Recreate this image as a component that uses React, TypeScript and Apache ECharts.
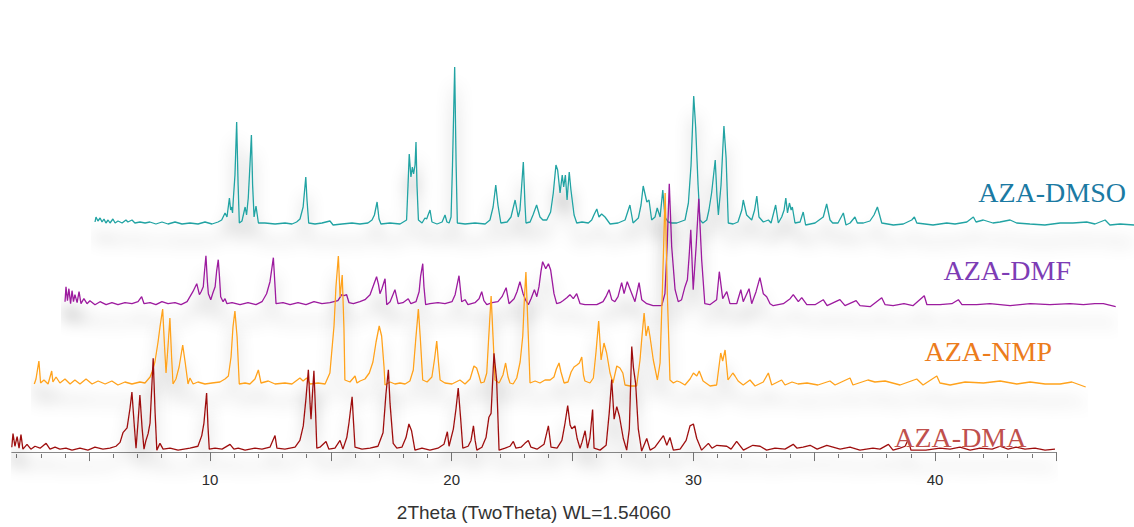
import React, { useEffect, useRef } from "react";
import * as echarts from "echarts";

// ---- Data: [2Theta (deg), relative intensity] ----
const DMSO: [number, number][] = [[1.52,3],[1.56,8],[1.64,4],[1.73,7],[1.81,3],[1.89,6],[1.97,2],[2.06,5],[2.14,2],[2.26,6],[2.35,2],[2.47,4],[2.64,2],[2.80,5],[2.88,3],[3.05,5],[3.17,2],[3.38,3],[3.59,2],[3.79,3],[4.04,1],[4.29,3],[4.54,1],[4.83,3],[5.12,1],[5.45,2],[5.78,1],[6.07,3],[6.36,1],[6.61,3],[6.76,5],[6.90,12],[6.98,8],[7.08,27],[7.13,15],[7.17,18],[7.21,12],[7.24,25],[7.31,50],[7.38,103],[7.44,40],[7.49,2],[7.60,4],[7.73,18],[7.79,10],[7.86,27],[7.93,60],[7.99,90],[8.04,40],[8.10,8],[8.18,19],[8.28,2],[8.55,2],[8.97,1],[9.38,2],[9.67,1],[9.86,3],[10.00,6],[10.13,18],[10.24,48],[10.29,25],[10.36,2],[10.62,1],[10.91,2],[11.24,4],[11.37,0],[11.74,1],[12.15,2],[12.48,1],[12.81,2],[12.98,5],[13.08,10],[13.19,23],[13.27,6],[13.35,1],[13.72,2],[14.14,1],[14.41,5],[14.47,40],[14.52,71],[14.59,48],[14.65,58],[14.70,51],[14.76,60],[14.80,83],[14.84,40],[14.90,5],[15.05,2],[15.17,7],[15.24,6],[15.30,10],[15.38,15],[15.46,3],[15.67,1],[15.88,3],[16.00,10],[16.08,3],[16.17,2],[16.25,8],[16.31,60],[16.40,158],[16.46,60],[16.51,2],[16.83,1],[17.24,2],[17.66,1],[17.86,5],[17.99,18],[18.10,40],[18.19,20],[18.31,2],[18.57,3],[18.73,8],[18.90,25],[19.03,8],[19.10,15],[19.16,35],[19.24,63],[19.31,20],[19.35,2],[19.52,3],[19.64,10],[19.79,20],[19.93,8],[20.05,5],[20.21,5],[20.37,13],[20.48,32],[20.59,60],[20.66,55],[20.76,32],[20.85,50],[20.91,38],[20.98,50],[21.05,25],[21.14,53],[21.21,35],[21.34,10],[21.45,2],[21.67,3],[21.93,2],[22.07,5],[22.16,10],[22.28,16],[22.37,8],[22.48,11],[22.62,8],[22.83,1],[23.16,2],[23.45,5],[23.65,20],[23.78,2],[24.00,7],[24.11,20],[24.20,39],[24.35,23],[24.44,25],[24.55,5],[24.69,8],[24.78,17],[24.90,8],[25.01,35],[25.10,8],[25.23,3],[25.38,2],[25.59,2],[25.93,5],[26.07,22],[26.18,60],[26.29,129],[26.37,98],[26.47,40],[26.55,5],[26.67,2],[26.83,5],[26.92,15],[27.03,32],[27.18,65],[27.25,30],[27.31,10],[27.42,40],[27.54,99],[27.63,67],[27.72,2],[27.92,1],[28.12,3],[28.28,15],[28.34,25],[28.48,10],[28.69,5],[28.81,15],[28.90,29],[28.99,8],[29.17,3],[29.38,5],[29.49,2],[29.68,20],[29.79,2],[29.93,8],[30.03,15],[30.10,27],[30.17,12],[30.25,22],[30.32,15],[30.37,18],[30.48,2],[30.69,3],[30.82,13],[30.92,0],[31.31,2],[31.65,8],[31.79,21],[31.93,5],[32.04,2],[32.26,2],[32.48,12],[32.59,0],[32.76,2],[32.96,8],[33.06,2],[33.31,2],[33.58,4],[33.75,10],[33.89,18],[34.07,2],[34.55,0],[34.96,1],[35.31,5],[35.42,8],[35.52,2],[36.19,0],[36.76,2],[37.10,1],[37.59,3],[37.86,8],[37.97,3],[38.27,5],[38.67,2],[38.96,3],[39.38,5],[39.65,2],[40.20,1],[40.82,0],[41.45,2],[41.98,2],[42.55,3],[42.89,1],[43.31,5],[43.51,0],[43.93,1],[44.51,0]];

const DMF: [number, number][] = [[1.52,5],[1.56,20],[1.62,6],[1.68,18],[1.75,3],[1.81,16],[1.87,5],[1.93,12],[2.02,4],[2.10,15],[2.18,3],[2.30,8],[2.43,3],[2.55,6],[2.76,2],[2.97,5],[3.22,2],[3.46,4],[3.71,2],[4.00,4],[4.29,3],[4.54,5],[4.69,10],[4.79,3],[5.04,4],[5.28,2],[5.53,5],[5.78,3],[6.07,4],[6.32,2],[6.57,5],[6.69,10],[6.81,15],[6.97,23],[7.08,12],[7.15,15],[7.24,20],[7.29,35],[7.35,51],[7.41,25],[7.45,13],[7.55,7],[7.64,14],[7.73,20],[7.79,35],[7.86,47],[7.91,30],[7.96,10],[8.06,5],[8.14,8],[8.22,3],[8.43,4],[8.76,2],[9.09,4],[9.42,2],[9.67,5],[9.86,13],[10.00,25],[10.14,49],[10.21,20],[10.25,3],[10.54,4],[10.83,2],[11.16,4],[11.49,2],[11.82,5],[12.15,3],[12.48,4],[12.81,6],[12.97,12],[13.06,11],[13.17,12],[13.27,4],[13.45,3],[13.72,5],[13.93,7],[14.14,12],[14.26,20],[14.41,30],[14.49,22],[14.55,13],[14.63,18],[14.76,28],[14.83,2],[14.97,5],[15.17,17],[15.30,3],[15.50,4],[15.72,8],[15.83,3],[16.04,5],[16.17,15],[16.23,30],[16.32,43],[16.37,20],[16.44,2],[16.62,3],[16.95,4],[17.24,3],[17.53,5],[17.66,12],[17.82,31],[17.93,5],[18.07,7],[18.19,2],[18.48,4],[18.65,8],[18.76,15],[18.85,6],[18.97,2],[19.19,4],[19.43,5],[19.60,10],[19.77,19],[19.89,3],[20.10,8],[20.22,15],[20.34,25],[20.47,13],[20.59,6],[20.69,2],[20.80,8],[20.94,17],[21.04,10],[21.13,20],[21.21,35],[21.28,45],[21.41,38],[21.52,43],[21.61,37],[21.75,13],[21.86,3],[22.00,4],[22.12,6],[22.28,9],[22.41,12],[22.55,8],[22.69,13],[22.83,3],[23.03,2],[23.24,2],[23.52,2],[23.78,5],[23.90,10],[24.03,17],[24.14,7],[24.27,5],[24.40,10],[24.55,24],[24.65,13],[24.78,25],[24.97,13],[25.10,5],[25.27,24],[25.38,7],[25.59,3],[25.85,1],[26.21,1],[26.34,13],[26.43,60],[26.52,123],[26.62,60],[26.76,17],[26.89,5],[27.03,7],[27.17,20],[27.27,27],[27.34,50],[27.41,77],[27.51,17],[27.63,60],[27.74,108],[27.86,47],[27.99,3],[28.20,2],[28.48,7],[28.59,35],[28.73,8],[28.90,15],[29.03,3],[29.31,3],[29.48,17],[29.58,5],[29.82,18],[29.93,3],[30.11,15],[30.27,29],[30.41,13],[30.55,10],[30.69,3],[30.82,1],[31.24,3],[31.52,8],[31.65,12],[31.86,5],[32.00,9],[32.21,2],[32.55,2],[32.89,7],[33.05,1],[33.58,7],[33.79,1],[34.25,6],[34.41,1],[34.83,0],[35.31,9],[35.45,2],[35.78,1],[36.23,3],[36.60,1],[37.07,11],[37.18,2],[37.72,2],[38.21,3],[38.48,7],[38.63,2],[39.24,2],[39.79,3],[40.62,1],[41.45,3],[42.27,2],[43.10,3],[43.65,2],[44.13,3],[44.48,3],[44.99,0]];

const NMP: [number, number][] = [[1.49,3],[1.56,8],[1.68,26],[1.75,4],[1.89,7],[2.06,3],[2.21,16],[2.26,5],[2.39,10],[2.55,4],[2.76,8],[2.97,3],[3.17,7],[3.38,3],[3.63,8],[3.88,3],[4.13,6],[4.42,3],[4.70,6],[4.95,2],[5.24,5],[5.53,3],[5.86,5],[6.07,4],[6.28,10],[6.36,15],[6.48,25],[6.61,45],[6.69,60],[6.80,78],[6.88,40],[6.94,14],[7.02,40],[7.10,69],[7.17,30],[7.23,3],[7.35,8],[7.48,20],[7.63,42],[7.73,25],[7.85,3],[7.93,9],[8.06,3],[8.26,5],[8.55,3],[8.84,4],[9.17,5],[9.38,8],[9.52,11],[9.63,30],[9.71,60],[9.79,76],[9.88,50],[9.97,3],[10.21,4],[10.41,3],[10.62,8],[10.76,17],[10.87,4],[11.17,6],[11.45,3],[11.86,4],[12.15,3],[12.48,9],[12.61,6],[12.76,9],[12.90,3],[13.23,4],[13.52,3],[13.72,14],[13.89,61],[13.97,100],[14.07,131],[14.14,90],[14.23,112],[14.30,60],[14.34,7],[14.55,5],[14.76,11],[14.84,4],[14.97,6],[15.17,8],[15.35,14],[15.50,25],[15.63,45],[15.76,61],[15.86,51],[15.96,20],[16.00,2],[16.21,5],[16.41,3],[16.62,4],[16.83,3],[17.03,6],[17.17,17],[17.28,50],[17.38,78],[17.47,45],[17.56,7],[17.74,5],[17.94,10],[18.05,28],[18.14,46],[18.21,25],[18.28,7],[18.48,4],[18.77,3],[19.10,7],[19.31,3],[19.52,8],[19.68,21],[19.79,19],[19.88,12],[19.97,4],[20.10,5],[20.21,14],[20.28,45],[20.39,91],[20.47,50],[20.55,7],[20.72,4],[20.88,12],[20.99,24],[21.09,10],[21.17,4],[21.30,3],[21.45,9],[21.59,25],[21.70,51],[21.77,90],[21.83,115],[21.90,70],[22.00,4],[22.21,6],[22.41,4],[22.62,7],[22.83,7],[22.99,10],[23.09,18],[23.20,24],[23.28,15],[23.41,4],[23.57,5],[23.70,15],[23.82,20],[23.94,22],[24.04,24],[24.14,30],[24.21,12],[24.27,6],[24.48,4],[24.62,9],[24.73,35],[24.84,66],[24.94,27],[25.06,44],[25.17,34],[25.31,14],[25.43,4],[25.59,21],[25.72,19],[25.84,14],[25.93,2],[26.14,1],[26.41,1],[26.55,27],[26.63,50],[26.72,74],[26.80,51],[26.89,61],[26.96,51],[27.10,27],[27.27,7],[27.38,24],[27.48,100],[27.59,194],[27.68,94],[27.79,7],[27.93,4],[28.08,6],[28.20,5],[28.41,2],[28.62,8],[28.76,14],[28.90,11],[29.00,16],[29.16,6],[29.45,1],[29.72,2],[29.89,34],[29.97,26],[30.07,37],[30.19,7],[30.39,14],[30.48,11],[30.61,6],[30.82,2],[31.10,7],[31.31,1],[31.65,5],[31.79,11],[31.86,14],[32.00,2],[32.41,7],[32.55,2],[32.84,5],[33.09,3],[33.46,4],[33.91,2],[34.41,6],[34.62,2],[35.24,9],[35.36,2],[35.98,7],[36.27,5],[36.69,6],[37.31,2],[38.00,8],[38.26,2],[38.83,11],[38.96,4],[39.38,2],[40.00,5],[40.76,4],[41.45,6],[42.14,3],[42.69,5],[43.31,3],[43.93,3],[44.42,5],[44.99,0]];

const DMA: [number, number][] = [[1.80,5],[1.85,19],[1.93,6],[2.02,16],[2.10,4],[2.18,18],[2.26,3],[2.43,8],[2.59,3],[2.76,6],[2.97,4],[3.22,9],[3.38,3],[3.59,5],[3.79,3],[4.04,4],[4.29,2],[4.62,4],[4.95,2],[5.24,5],[5.57,3],[5.86,4],[6.11,6],[6.28,10],[6.40,20],[6.57,25],[6.69,45],[6.77,62],[6.86,30],[6.94,4],[7.02,30],[7.10,59],[7.19,25],[7.27,3],[7.35,12],[7.44,19],[7.52,30],[7.65,97],[7.73,40],[7.80,2],[7.93,9],[8.06,3],[8.35,4],[8.68,2],[9.17,4],[9.50,6],[9.66,17],[9.75,30],[9.86,61],[9.92,25],[9.97,3],[10.21,4],[10.50,3],[10.83,8],[10.99,3],[11.17,4],[11.45,2],[11.86,4],[12.15,3],[12.48,5],[12.69,17],[12.77,4],[13.10,3],[13.52,5],[13.72,12],[13.86,27],[13.97,55],[14.07,85],[14.14,50],[14.18,34],[14.24,60],[14.30,84],[14.37,40],[14.42,4],[14.55,5],[14.80,11],[14.92,3],[15.17,4],[15.38,12],[15.50,3],[15.66,15],[15.75,30],[15.88,57],[15.94,30],[16.00,5],[16.29,3],[16.62,4],[16.95,6],[17.16,20],[17.28,60],[17.38,85],[17.45,50],[17.58,9],[17.73,4],[17.94,5],[18.11,15],[18.23,29],[18.34,22],[18.48,2],[18.77,4],[19.10,2],[19.43,4],[19.68,8],[19.82,21],[19.89,6],[20.07,24],[20.18,45],[20.27,66],[20.37,35],[20.46,4],[20.68,6],[20.80,12],[20.90,27],[20.97,12],[21.04,2],[21.25,5],[21.42,15],[21.54,36],[21.63,40],[21.75,102],[21.86,74],[21.96,2],[22.21,4],[22.41,6],[22.55,11],[22.66,4],[22.87,5],[23.03,9],[23.17,12],[23.28,5],[23.53,3],[23.82,8],[24.00,27],[24.11,5],[24.36,4],[24.56,12],[24.69,30],[24.80,48],[24.90,28],[24.97,24],[25.10,27],[25.19,14],[25.31,4],[25.39,10],[25.52,22],[25.62,4],[25.72,15],[25.83,44],[25.89,4],[26.14,2],[26.39,7],[26.52,41],[26.62,75],[26.72,34],[26.83,47],[26.94,37],[27.10,14],[27.24,2],[27.35,24],[27.45,109],[27.52,87],[27.61,71],[27.72,24],[27.86,1],[28.07,14],[28.21,2],[28.41,5],[28.76,17],[28.90,7],[29.03,15],[29.17,2],[29.45,3],[29.70,12],[29.86,27],[30.00,29],[30.14,14],[30.34,2],[30.62,9],[30.77,4],[30.97,7],[31.38,6],[31.56,3],[31.79,11],[32.07,2],[32.46,7],[32.76,6],[33.03,2],[33.38,4],[33.79,3],[34.13,8],[34.29,4],[34.54,5],[34.83,7],[35.12,3],[35.52,7],[36.07,3],[36.48,5],[36.89,2],[37.43,4],[37.72,3],[38.07,8],[38.26,2],[38.55,4],[38.76,6],[38.89,13],[39.00,2],[39.62,2],[40.20,4],[40.62,3],[41.03,5],[41.45,2],[41.86,4],[42.36,3],[42.69,6],[43.02,3],[43.35,5],[43.72,3],[44.13,4],[44.55,2],[44.96,3]];

const SAMPLE_NAMES = ["AZA-DMSO", "AZA-DMF", "AZA-NMP", "AZA-DMA"];
const MAJOR_TICKS = [5, 10, 15, 20, 25, 30, 35, 40, 45];
const MINOR_TICKS = [2, 3, 4, 6, 7, 8, 9, 11, 12, 13, 14, 16, 17, 18, 19, 21, 22, 23, 24, 26, 27, 28, 29, 31, 32, 33, 34, 36, 37, 38, 39, 41, 42, 43, 44];
const TICK_LABELS = [10, 20, 30, 40];
const AXIS_NAME = "2Theta (TwoTheta) WL=1.54060";

// ---- layout / style ----
const W = 1134;
const H = 527;
const PX_PER_DEG = 24.17;
const DEG_AT_ZERO = 1.312; // 2θ at page x=0 for the un-shifted (bottom) trace
const X_MAX = 45;

const TRACES = [
  { name: SAMPLE_NAMES[0], data: DMSO, line: "#21a3a3", label: "#1b7aa3", shift: 90, base: 225, labelX: 1126, labelY: 192 },
  { name: SAMPLE_NAMES[1], data: DMF, line: "#9c1a9e", label: "#7d3cb5", shift: 60, base: 306.7, labelX: 1071, labelY: 270 },
  { name: SAMPLE_NAMES[2], data: NMP, line: "#ffa21c", label: "#ec7c1c", shift: 30, base: 387, labelX: 1052, labelY: 351 },
  { name: SAMPLE_NAMES[3], data: DMA, line: "#9e1010", label: "#c0504d", shift: 0, base: 467, labelX: 1026.5, labelY: 437 },
];

const SANS = "Liberation Sans, Arial, sans-serif";

export default function App() {
  const ref = useRef<HTMLDivElement>(null);
  useEffect(() => {
    if (!ref.current) return;
    const chart = echarts.init(ref.current, undefined, { renderer: "svg" });

    const grids: any[] = [];
    const xAxes: any[] = [];
    const yAxes: any[] = [];
    const series: any[] = [];

    TRACES.forEach((t, i) => {
      const isBottom = i === TRACES.length - 1;
      const xMin = isBottom ? 1.8 : 1.4;
      // keep every grid inside the canvas so the scale stays the same for all traces
      const xMax = Math.min(X_MAX, DEG_AT_ZERO + (W - 0.5 - t.shift) / PX_PER_DEG);
      const left = t.shift + PX_PER_DEG * (xMin - DEG_AT_ZERO);
      const axisBottom = isBottom ? t.base + 2 : t.base;
      grids.push({ left, top: 0, width: PX_PER_DEG * (xMax - xMin), height: axisBottom, containLabel: false });
      xAxes.push(
        isBottom
          ? {
              gridIndex: i, type: "value", min: xMin, max: xMax, position: "bottom",
              axisLine: { show: true, lineStyle: { color: "#8a8a8a", width: 1 } },
              axisTick: { show: true, length: 9, customValues: MAJOR_TICKS, lineStyle: { color: "#777" } },
              axisLabel: { show: true, customValues: TICK_LABELS, color: "#2b2b2b", fontSize: 15, fontFamily: SANS, margin: 18 },
              splitLine: { show: false },
              name: AXIS_NAME, nameLocation: "middle", nameGap: 49,
              nameTextStyle: { fontSize: 19, color: "#333", fontFamily: SANS },
            }
          : { gridIndex: i, type: "value", min: xMin, max: xMax, show: false }
      );
      yAxes.push({ gridIndex: i, type: "value", min: isBottom ? -2 : 0, max: t.base, show: false });
      series.push({
        type: "line", name: t.name, xAxisIndex: i, yAxisIndex: i, data: t.data,
        showSymbol: false, symbol: "none", silent: true, clip: false, z: 2 + i,
        lineStyle: { color: t.line, width: 1.3, shadowColor: "rgba(0,0,0,0.38)", shadowBlur: 16, shadowOffsetY: 18 },
      });
    });

    // minor ticks on the bottom axis
    const bi = TRACES.length - 1;
    xAxes.push({
      gridIndex: bi, type: "value", min: 1.8, max: X_MAX, position: "bottom",
      axisLine: { show: false },
      axisTick: { show: true, length: 4, customValues: MINOR_TICKS, lineStyle: { color: "#777" } },
      axisLabel: { show: false }, splitLine: { show: false },
    });

    chart.setOption({
      animation: false,
      backgroundColor: "#ffffff",
      grid: grids,
      xAxis: xAxes,
      yAxis: yAxes,
      series,
      graphic: TRACES.map((t) => ({
        type: "text", x: t.labelX, y: t.labelY, silent: true, z: 100,
        style: {
          text: t.name, fill: t.label, textAlign: "right", textVerticalAlign: "middle",
          font: "28px 'Liberation Serif', 'DejaVu Serif', serif",
        },
      })),
    });
    return () => chart.dispose();
  }, []);
  return <div ref={ref} style={{ position: "absolute", left: 0, top: 0, width: W, height: H, background: "#fff" }} />;
}
